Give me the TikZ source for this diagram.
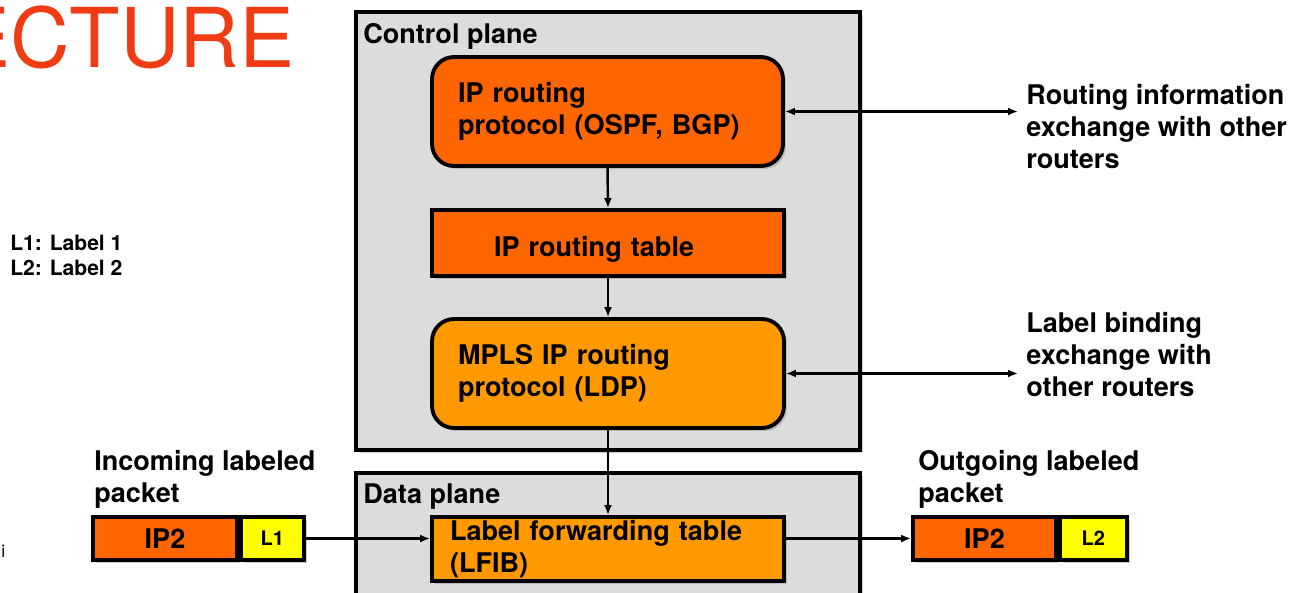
\documentclass[tikz,border=0pt]{standalone}
\usepackage{fontspec}
\setmainfont{TeX Gyre Heros}
\usetikzlibrary{arrows.meta,shadows}

\definecolor{ipcolor}{HTML}{FF6600}
\definecolor{mplscolor}{HTML}{FF9900}
\definecolor{labelcolor}{HTML}{FFFF00}
\definecolor{planecolor}{HTML}{DCDCDC}
\definecolor{titlecolor}{HTML}{F03C14}

\tikzset{
	shade/.style={drop shadow={shadow xshift=0.06cm, shadow yshift=-0.06cm, opacity=0.35}},
	plane/.style={draw, line width=2.2pt, fill=planecolor, shade},
	txt/.style={font=\bfseries\fontsize{15.4}{18.2}\selectfont, align=left, inner sep=0pt},
	block/.style={txt, draw, line width=2.2pt, shade, inner ysep=0pt},
	packet/.style={txt, draw, line width=2.2pt, shade, minimum height=0.86cm, align=center},
	flow/.style={line width=1.4pt, -{Latex[length=0.2cm, width=0.16cm]}},
	bothway/.style={line width=1.4pt, {Latex[length=0.2cm, width=0.16cm]}-{Latex[length=0.2cm, width=0.16cm]}}
}

\begin{document}
\begin{tikzpicture}[x=0.02cm, y=-0.02cm]
		\useasboundingbox ( 0, 0 ) rectangle ( 1293, 592 );

		% заголовок и легенда
		\node (title) [anchor=base east, inner sep=0pt, text=titlecolor, font=\fontsize{47}{50}\selectfont] at ( 295, 67 ) {ECTURE};
		\node (legend) [txt, anchor=base west, font=\bfseries\fontsize{12}{14.2}\selectfont] at ( 10, 275 ) {L1: Label 1\\L2: Label 2};
		\node (mark) [anchor=base west, inner sep=0pt, font=\fontsize{10}{12}\selectfont] at ( 1, 557 ) {i};

		% плоскости
		\draw [plane] ( 356, 12 ) rectangle ( 860, 450 );
		\node (ctrl) [txt, anchor=base west] at ( 363, 43 ) {Control plane};
		\draw [plane] ( 356, 473 ) rectangle ( 860, 610 );
		\node (data) [txt, anchor=base west] at ( 363, 503 ) {Data plane};

		% блоки управления
		\node (proto) [block, fill=ipcolor, rounded corners=0.44cm, minimum width=7.02cm, minimum height=2.18cm, text width=5.98cm, inner xsep=0.52cm] at ( 607.5, 111.5 ) {IP routing\\protocol (OSPF, BGP)};
		\node (table) [block, fill=ipcolor, minimum width=7.04cm, minimum height=1.32cm, text width=4.56cm, inner xsep=1.24cm, text height=0.52cm, text depth=0cm] at ( 608, 243 ) {IP routing table};
		\node (mpls) [block, fill=mplscolor, rounded corners=0.44cm, minimum width=7.04cm, minimum height=2.18cm, text width=6.00cm, inner xsep=0.52cm] at ( 608, 373.5 ) {MPLS IP routing\\protocol (LDP)};

		% блок данных
		\node (lfib) [block, fill=mplscolor, minimum width=7.04cm, minimum height=1.28cm, text width=6.32cm, inner xsep=0.36cm] at ( 608, 549 ) {Label forwarding table\\(LFIB)};

		% пакеты
		\node (inlabel) [txt, anchor=base west] at ( 94, 502 ) {Incoming labeled\\packet};
		\node (ipin) [packet, fill=ipcolor, minimum width=2.88cm] at ( 165, 538.5 ) {IP2};
		\node (lin) [packet, fill=labelcolor, minimum width=1.26cm, anchor=west, font=\bfseries\fontsize{11.4}{13}\selectfont] at (ipin.east) {L1};
		\node (outlabel) [txt, anchor=base west] at ( 918, 502 ) {Outgoing labeled\\packet};
		\node (ipout) [packet, fill=ipcolor, minimum width=2.86cm] at ( 984.5, 538.5 ) {IP2};
		\node (lout) [packet, fill=labelcolor, minimum width=1.34cm, anchor=west, font=\bfseries\fontsize{11.4}{13}\selectfont] at (ipout.east) {L2};

		% обмен с другими маршрутизаторами
		\coordinate (ri) at ( 1018, 111.5 );
		\coordinate (lb) at ( 1018, 373.5 );
		\node (ritext) [txt, anchor=base west] at ( 1026, 168 ) {Routing information\\exchange with other\\routers};
		\node (lbtext) [txt, anchor=base west] at ( 1026, 396 ) {Label binding\\exchange with\\other routers};

		% стрелки
		\draw [flow] (proto.south) -- (table.north);
		\draw [flow] (table.south) -- (mpls.north);
		\draw [flow] (mpls.south) -- (lfib.north);
		\draw [bothway] (proto.east) -- (ri);
		\draw [bothway] (mpls.east) -- (lb);
		\draw [flow] (lin.east) -- (lin.east -| lfib.west);
		\draw [flow] (ipout.west -| lfib.east) -- (ipout.west);
	\end{tikzpicture}
\end{document}
